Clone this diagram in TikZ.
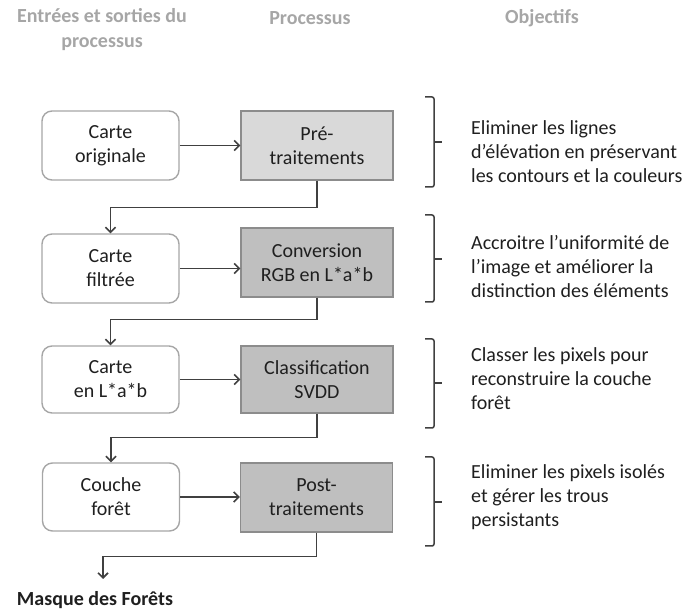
\documentclass[tikz,border=0pt]{standalone}
\usepackage{fontspec}
\setmainfont{Carlito}
\usetikzlibrary{arrows.meta}
\definecolor{txt}{HTML}{1F1F1F}
\definecolor{hdr}{HTML}{A6A6A6}
\definecolor{fillA}{HTML}{D9D9D9}
\definecolor{fillB}{HTML}{BFBFBF}
\definecolor{lnk}{HTML}{404040}
\definecolor{boxline}{HTML}{A6A6A6}
\definecolor{procline}{HTML}{8C8C8C}
\begin{document}
\begin{tikzpicture}[x=1pt,y=-1pt,
  every node/.style={font=\fontsize{20}{24}\selectfont, text=txt, align=center, inner sep=0pt},
  iobox/.style={draw=boxline, rounded corners=10pt, line width=1.4pt, minimum width=137pt},
  procbox/.style={draw=procline, line width=1.4pt, minimum width=152pt},
  conn/.style={draw=lnk, line width=1.6pt, -{Straight Barb[length=5pt,width=10pt]}},
  brace/.style={draw=lnk, line width=1.5pt, rounded corners=2pt},
  obj/.style={anchor=west, align=left},
  hdrtext/.style={font=\bfseries\fontsize{20}{25}\selectfont, text=hdr}]
\path[use as bounding box] (0,0) rectangle (689,612);

% headers
\node[hdrtext] (h1) at (102,30) {Entrées et sorties du\\processus};
\node[hdrtext] (h2) at (310,18) {Processus};
\node[hdrtext] (h3) at (542,18) {Objectifs};

% boxes
\node[iobox, minimum height=69pt] (L1) at (110.5,145.5) {Carte\\originale};
\node[procbox, fill=fillA, minimum height=69pt] (R1) at (317,145.5) {Pré-\\traitements};
\node[iobox, minimum height=69pt] (L2) at (110.5,268.5) {Carte\\filtrée};
\node[procbox, fill=fillB, minimum height=69pt] (R2) at (317,262.5) {Conversion\\RGB en L*a*b};
\node[iobox, minimum height=67pt] (L3) at (110.5,379.5) {Carte\\en L*a*b};
\node[procbox, fill=fillB, minimum height=67pt] (R3) at (317,379.5) {Classification\\SVDD};
\node[iobox, minimum height=68pt] (L4) at (111,497) {Couche\\forêt};
\node[procbox, fill=fillB, minimum height=69pt] (R4) at (316.5,497.5) {Post-\\traitements};

% horizontal connectors
\draw[conn] (L1.east) -- (R1.west |- L1.east);
\draw[conn] (L2.east) -- (R2.west |- L2.east);
\draw[conn] (L3.east) -- (R3.west |- L3.east);
\draw[conn] (L4.east) -- (R4.west |- L4.east);

% vertical connectors
\draw[conn] (R1.south) -- ++(0,27) -| (L2.north);
\draw[conn] (R2.south) -- ++(0,22) -| (L3.north);
\draw[conn] (R3.south) -- ++(0,24) -| (L4.north);
\coordinate (outend) at (103,579);
\draw[conn] (R4.south) -- ++(0,24) -| (outend);
\node[font=\bfseries\fontsize{20}{24}\selectfont] (mask) at (95,600) {Masque des Forêts};

% braces
\draw[brace] (425,97) -- (434,97) -- (434,187) -- (425,187);
\draw[lnk, line width=1.5pt] (434,142) -- (442,142);
\draw[brace] (425,215) -- (434,215) -- (434,302) -- (425,302);
\draw[lnk, line width=1.5pt] (434,259) -- (442,259);
\draw[brace] (425,339) -- (434,339) -- (434,428) -- (425,428);
\draw[lnk, line width=1.5pt] (434,383) -- (442,383);
\draw[brace] (425,457) -- (434,457) -- (434,546) -- (425,546);
\draw[lnk, line width=1.5pt] (434,502) -- (442,502);

% objectives
\node[obj] (o1) at (471,152) {Eliminer les lignes\\d’élévation en préservant\\les contours et la couleurs};
\node[obj] (o2) at (471,267) {Accroitre l’uniformité de\\l’image et améliorer la\\distinction des éléments};
\node[obj] (o3) at (471,379) {Classer les pixels pour\\reconstruire la couche\\forêt};
\node[obj] (o4) at (471,497) {Eliminer les pixels isolés\\et gérer les trous\\persistants};
\end{tikzpicture}
\end{document}
